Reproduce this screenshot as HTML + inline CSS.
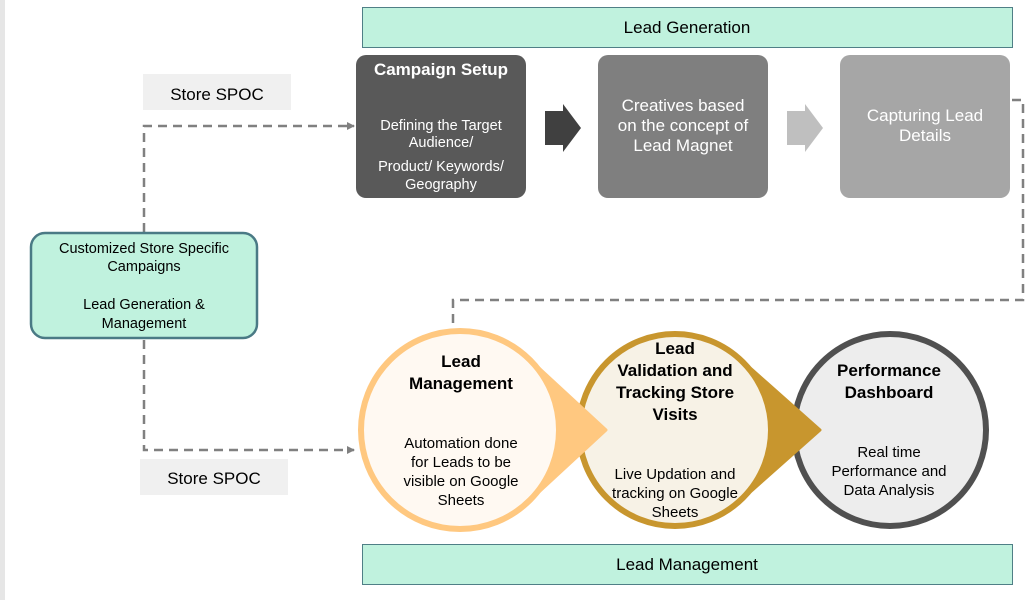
<!DOCTYPE html>
<html><head><meta charset="utf-8"><style>
html,body{margin:0;padding:0;background:#fff;}
svg{display:block;font-family:"Liberation Sans",Arial,sans-serif;}
</style></head><body>
<svg width="1033" height="600" viewBox="0 0 1033 600">
<defs>
<marker id="ah" markerWidth="8" markerHeight="8" refX="7" refY="4" orient="auto" markerUnits="userSpaceOnUse">
<path d="M0,0 L8,4 L0,8 Z" fill="#808080"/></marker>
</defs>
<rect x="0" y="0" width="5" height="600" fill="#e6e6e6"/>
<!-- banners -->
<rect x="362.5" y="7.5" width="650" height="40" fill="#C0F2DE" stroke="#4f7f86" stroke-width="1"/>
<text x="687" y="33" font-size="17" text-anchor="middle" fill="#000">Lead Generation</text>
<rect x="362.5" y="544.5" width="650" height="40" fill="#C0F2DE" stroke="#4f7f86" stroke-width="1"/>
<text x="687" y="570" font-size="17" text-anchor="middle" fill="#000">Lead Management</text>
<!-- top boxes -->
<rect x="356" y="55" width="170" height="143" rx="10" fill="#595959"/>
<text x="441" y="75" font-size="17" font-weight="bold" text-anchor="middle" fill="#fff">Campaign Setup</text>
<g font-size="14.5" text-anchor="middle" fill="#fff">
<text x="441" y="130">Defining the Target</text>
<text x="441" y="147">Audience/</text>
<text x="441" y="171">Product/ Keywords/</text>
<text x="441" y="189">Geography</text>
</g>
<rect x="598" y="55" width="170" height="143" rx="10" fill="#7F7F7F"/>
<g font-size="17" text-anchor="middle" fill="#fff">
<text x="683" y="111">Creatives based</text>
<text x="683" y="131">on the concept of</text>
<text x="683" y="151">Lead Magnet</text>
</g>
<rect x="840" y="55" width="170" height="143" rx="10" fill="#A6A6A6"/>
<g font-size="17" text-anchor="middle" fill="#fff">
<text x="925" y="121">Capturing Lead</text>
<text x="925" y="141">Details</text>
</g>
<path d="M545,111 L563,111 L563,104 L581,128 L563,152 L563,145 L545,145 Z" fill="#404040"/>
<path d="M787,111 L805,111 L805,104 L823,128 L805,152 L805,145 L787,145 Z" fill="#BFBFBF"/>
<!-- SPOC labels -->
<rect x="143" y="74" width="148" height="36" fill="#F0F0F0"/>
<text x="217" y="100" font-size="17" text-anchor="middle" fill="#000">Store SPOC</text>
<rect x="140" y="459" width="148" height="36" fill="#F0F0F0"/>
<text x="214" y="484" font-size="17" text-anchor="middle" fill="#000">Store SPOC</text>
<!-- dashed connectors -->
<g fill="none" stroke="#808080" stroke-width="2.5" stroke-dasharray="9,6">
<path d="M144,232 L144,126 L354,126" marker-end="url(#ah)"/>
<path d="M144,340 L144,450 L354,450" marker-end="url(#ah)"/>
<path d="M1012,100 L1023,100 L1023,300 L453,300 L453,330"/>
</g>
<!-- central box -->
<rect x="31" y="233" width="226" height="105" rx="14" fill="#C0F2DE" stroke="#4a7a85" stroke-width="2.5"/>
<g font-size="14.5" text-anchor="middle" fill="#000">
<text x="144" y="253">Customized Store Specific</text>
<text x="144" y="271">Campaigns</text>
<text x="144" y="309">Lead Generation &amp;</text>
<text x="144" y="328">Management</text>
</g>
<!-- circles -->
<circle cx="890" cy="430" r="96" fill="#EDEDED" stroke="#505050" stroke-width="6"/>
<path d="M820,430 L739,358 L739,502 Z" fill="#C8962E" stroke="#C8962E" stroke-width="3" stroke-linejoin="round"/>
<circle cx="675" cy="430" r="96" fill="#F7F2E6" stroke="#C8962E" stroke-width="6"/>
<path d="M606,430 L527,357 L527,503 Z" fill="#FFC880" stroke="#FFC880" stroke-width="3" stroke-linejoin="round"/>
<circle cx="460" cy="430" r="99" fill="#FFF9F2" stroke="#FFC880" stroke-width="6"/>
<g text-anchor="middle" fill="#000">
<text x="461" y="367" font-size="17" font-weight="bold">Lead</text>
<text x="461" y="389" font-size="17" font-weight="bold">Management</text>
<text x="461" y="448" font-size="15">Automation done</text>
<text x="461" y="467" font-size="15">for Leads to be</text>
<text x="461" y="486" font-size="15">visible on Google</text>
<text x="461" y="505" font-size="15">Sheets</text>
<text x="675" y="354" font-size="17" font-weight="bold">Lead</text>
<text x="675" y="376" font-size="17" font-weight="bold">Validation and</text>
<text x="675" y="398" font-size="17" font-weight="bold">Tracking Store</text>
<text x="675" y="420" font-size="17" font-weight="bold">Visits</text>
<text x="675" y="479" font-size="15">Live Updation and</text>
<text x="675" y="498" font-size="15">tracking on Google</text>
<text x="675" y="517" font-size="15">Sheets</text>
<text x="889" y="376" font-size="17" font-weight="bold">Performance</text>
<text x="889" y="398" font-size="17" font-weight="bold">Dashboard</text>
<text x="889" y="457" font-size="15">Real time</text>
<text x="889" y="476" font-size="15">Performance and</text>
<text x="889" y="495" font-size="15">Data Analysis</text>
</g>
</svg>
</body></html>
